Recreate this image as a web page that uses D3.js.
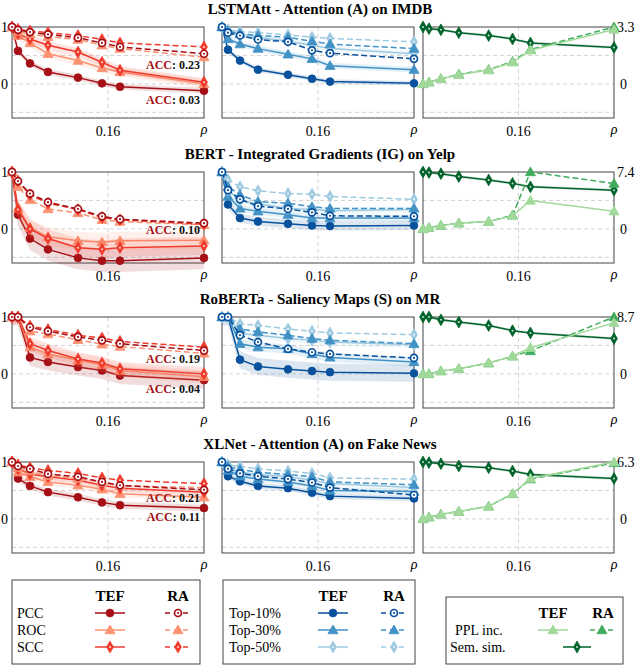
<!DOCTYPE html>
<html>
<head>
<meta charset="utf-8">
<script src="https://cdn.jsdelivr.net/npm/d3@7"></script>
<style>
  body { margin: 0; background: #fff; }
  text { font-family: "Liberation Serif", "Times New Roman", serif; }
</style>
</head>
<body>
<svg id="chart" width="640" height="666"></svg>
<script>
// x positions (ratio of removed tokens)
var rho = [0, 0.01, 0.03, 0.06, 0.11, 0.15, 0.18, 0.32];
var rhoTicks = [0.16];

var titles = [
  'LSTMAtt - Attention (A) on IMDB',
  'BERT - Integrated Gradients (IG) on Yelp',
  'RoBERTa - Saliency Maps (S) on MR',
  'XLNet - Attention (A) on Fake News'
];

// correlation metrics, one row per model
var pccTEF = [
  [1.0, 0.58, 0.36, 0.21, 0.11, 0.01, -0.05, -0.12],
  [1.0, 0.25, -0.17, -0.36, -0.51, -0.56, -0.56, -0.51],
  [1.0, 1.0, 0.29, 0.21, 0.12, 0.06, -0.03, -0.11],
  [1.0, 0.71, 0.58, 0.47, 0.38, 0.29, 0.24, 0.19]
];
var rocTEF = [
  [1.0, 0.85, 0.72, 0.53, 0.41, 0.28, 0.21, 0.0],
  [1.0, 0.36, 0.02, -0.14, -0.21, -0.23, -0.21, -0.2],
  [1.0, 1.0, 0.47, 0.35, 0.24, 0.16, 0.06, -0.05],
  [1.0, 0.82, 0.74, 0.65, 0.59, 0.52, 0.44, 0.38]
];
var sccTEF = [
  [1.0, 0.88, 0.79, 0.68, 0.56, 0.38, 0.24, 0.03],
  [1.0, 0.34, 0.0, -0.17, -0.33, -0.36, -0.33, -0.3],
  [1.0, 1.0, 0.53, 0.41, 0.26, 0.19, 0.09, 0.0],
  [1.0, 0.88, 0.79, 0.74, 0.68, 0.59, 0.54, 0.47]
];
var pccRA = [
  [1.0, 0.95, 0.91, 0.87, 0.81, 0.72, 0.65, 0.53],
  [1.0, 0.84, 0.62, 0.47, 0.35, 0.22, 0.17, 0.1],
  [1.0, 1.0, 0.82, 0.75, 0.65, 0.59, 0.53, 0.41],
  [1.0, 0.93, 0.88, 0.79, 0.74, 0.65, 0.59, 0.51]
];
var rocRA = [
  [1.0, 0.92, 0.88, 0.83, 0.78, 0.68, 0.62, 0.47],
  [1.0, 0.74, 0.51, 0.35, 0.28, 0.16, 0.13, 0.07],
  [1.0, 1.0, 0.75, 0.7, 0.6, 0.52, 0.48, 0.36],
  [1.0, 0.9, 0.84, 0.76, 0.71, 0.64, 0.58, 0.55]
];
var sccRA = [
  [1.0, 0.96, 0.93, 0.9, 0.85, 0.78, 0.72, 0.65],
  [1.0, 0.84, 0.6, 0.45, 0.34, 0.2, 0.16, 0.08],
  [1.0, 1.0, 0.84, 0.78, 0.68, 0.63, 0.57, 0.47],
  [1.0, 0.95, 0.9, 0.85, 0.8, 0.72, 0.68, 0.62]
];
var bandRed = [[0.05, 0.08, 0.07], [0.2, 0.16, 0.16], [0.15, 0.12, 0.12], [0.06, 0.06, 0.06]];

// top-k intersection
var top10TEF = [
  [1.0, 0.6, 0.41, 0.25, 0.16, 0.09, 0.04, 0.01],
  [1.0, 0.43, 0.19, 0.13, 0.09, 0.06, 0.05, 0.06],
  [1.0, 1.0, 0.25, 0.13, 0.08, 0.05, 0.03, 0.01],
  [1.0, 0.75, 0.66, 0.58, 0.54, 0.46, 0.4, 0.36]
];
var top30TEF = [
  [1.0, 0.79, 0.7, 0.62, 0.52, 0.44, 0.32, 0.25],
  [1.0, 0.57, 0.36, 0.31, 0.25, 0.19, 0.19, 0.19],
  [1.0, 1.0, 0.53, 0.47, 0.44, 0.35, 0.29, 0.21],
  [1.0, 0.85, 0.75, 0.7, 0.65, 0.58, 0.5, 0.48]
];
var top50TEF = [
  [1.0, 0.92, 0.87, 0.82, 0.75, 0.68, 0.62, 0.53],
  [1.0, 0.68, 0.5, 0.44, 0.36, 0.34, 0.32, 0.34],
  [1.0, 1.0, 0.71, 0.68, 0.62, 0.59, 0.56, 0.51],
  [1.0, 0.9, 0.82, 0.78, 0.74, 0.68, 0.62, 0.55]
];
var top10RA = [
  [1.0, 0.9, 0.85, 0.78, 0.74, 0.59, 0.54, 0.44],
  [1.0, 0.68, 0.52, 0.4, 0.35, 0.29, 0.23, 0.22],
  [1.0, 1.0, 0.68, 0.56, 0.44, 0.38, 0.35, 0.28],
  [1.0, 0.88, 0.8, 0.75, 0.7, 0.64, 0.55, 0.42]
];
var top30RA = [
  [1.0, 0.93, 0.88, 0.85, 0.82, 0.75, 0.7, 0.62],
  [1.0, 0.74, 0.6, 0.48, 0.45, 0.39, 0.36, 0.36],
  [1.0, 1.0, 0.79, 0.74, 0.68, 0.62, 0.59, 0.53],
  [1.0, 0.92, 0.87, 0.82, 0.78, 0.74, 0.65, 0.6]
];
var top50RA = [
  [1.0, 0.95, 0.92, 0.9, 0.86, 0.82, 0.8, 0.74],
  [1.0, 0.86, 0.74, 0.67, 0.62, 0.61, 0.57, 0.52],
  [1.0, 1.0, 0.88, 0.85, 0.79, 0.75, 0.72, 0.69],
  [1.0, 0.95, 0.92, 0.88, 0.84, 0.8, 0.72, 0.7]
];
var bandBlue = [[0.04, 0.05, 0.05], [0.08, 0.06, 0.06], [0.15, 0.08, 0.06], [0.05, 0.05, 0.05]];

// perplexity increase (raw) and semantic similarity (fraction)
var pplMax = [3.3, 7.4, 8.7, 6.3];
var pplTEF = [
  [0, 0.1, 0.3, 0.53, 0.8, 1.25, 1.95, 3.15],
  [0, 0.15, 0.44, 0.74, 0.96, 1.7, 3.7, 2.3],
  [0, 0, 0.44, 0.78, 1.65, 2.7, 4.0, 7.8],
  [0, 0.19, 0.5, 0.82, 1.39, 2.77, 4.47, 6.3]
];
var pplRA = [
  [0, 0.1, 0.3, 0.56, 0.83, 1.3, 2.0, 3.3],
  [0, 0.15, 0.44, 0.74, 0.96, 1.78, 7.4, 5.9],
  [0, 0, 0.44, 0.78, 1.65, 2.7, 3.5, 8.7],
  [0, 0.19, 0.5, 0.82, 1.39, 2.77, 4.4, 6.2]
];
var semSim = [
  [1.0, 0.97, 0.95, 0.9, 0.85, 0.79, 0.72, 0.64],
  [1.0, 0.99, 0.97, 0.92, 0.86, 0.8, 0.74, 0.68],
  [1.0, 1.0, 0.95, 0.91, 0.85, 0.76, 0.72, 0.62],
  [1.0, 0.99, 0.97, 0.93, 0.9, 0.84, 0.78, 0.71]
];

// model accuracy after attack: [RA, TEF]
var accRA = ['0.23', null, '0.19', '0.21'];
var accTEF = ['0.03', '0.10', '0.04', '0.11'];

var C = {
  pcc: '#a50f15', roc: '#fc9272', scc: '#ef3b2c',
  t10: '#08519c', t30: '#4292c6', t50: '#9ecae1',
  pplTEF: '#a1d99b', pplRA: '#41ab5d', sem: '#00632b'
};

var svg = d3.select('#chart');
var cols = [[12, 204], [222, 414], [423, 614]];
var frameH = 91;
var rowTop = function(r) { return 27 + r * 145; };

// where the ACC notes sit (y in axis units)
var accPos = [[0.33, -0.28], [null, -0.02], [0.27, -0.27], [0.37, 0.04]];

var sym = {
  circle: d3.symbol().type(d3.symbolCircle).size(48),
  triangle: d3.symbol().type(d3.symbolTriangle).size(44),
  diamond: d3.symbol().type(d3.symbolDiamond).size(40)
};

// draws one marker at (px,py)
function marker(g, px, py, shape, color, ra) {
  if (shape === 'circle' && ra) {
    g.append('circle').attr('cx', px).attr('cy', py).attr('r', 3.5)
      .attr('fill', '#fff').attr('stroke', color).attr('stroke-width', 1.7);
    g.append('circle').attr('cx', px).attr('cy', py).attr('r', 1.1).attr('fill', color);
    return;
  }
  g.append('path').attr('d', sym[shape]())
    .attr('transform', 'translate(' + px + ',' + (shape === 'triangle' ? py + 0.8 : py) + ')')
    .attr('fill', color).attr('stroke', color).attr('stroke-width', 0.8);
  if (shape === 'diamond') {
    g.append('circle').attr('cx', px).attr('cy', py).attr('r', 1).attr('fill', '#fff').attr('opacity', 0.8);
  }
}

function series(g, x, y, vals, color, shape, ra, band) {
  var pts = vals.map(function(v, i) { return [rho[i], v]; });
  if (band) {
    var area = d3.area().x(function(d) { return x(d[0]); })
      .y0(function(d) { return y(d[1] - band); })
      .y1(function(d) { return y(Math.min(1, d[1] + band)); });
    g.append('path').attr('d', area(pts)).attr('fill', color).attr('opacity', 0.14);
  }
  var line = d3.line().x(function(d) { return x(d[0]); }).y(function(d) { return y(d[1]); });
  g.append('path').attr('d', line(pts)).attr('fill', 'none')
    .attr('stroke', color).attr('stroke-width', 1.5)
    .attr('stroke-dasharray', ra ? '6,3' : null);
  pts.forEach(function(d) { marker(g, x(d[0]), y(d[1]), shape, color, ra); });
}

function panel(r, c) {
  var top = rowTop(r);
  var x = d3.scaleLinear().domain([0, 0.32]).range(cols[c]);
  var y = d3.scaleLinear().domain([-0.6, 1]).range([top + frameH, top]);
  var g = svg.append('g');

  // grid
  [0.5, 0, -0.5].forEach(function(v) {
    g.append('line').attr('x1', cols[c][0]).attr('x2', cols[c][1])
      .attr('y1', y(v)).attr('y2', y(v))
      .attr('stroke', '#c8c8c8').attr('stroke-width', 0.8).attr('stroke-dasharray', '4,3');
  });
  rhoTicks.forEach(function(t) {
    g.append('line').attr('x1', x(t)).attr('x2', x(t)).attr('y1', top).attr('y2', top + frameH)
      .attr('stroke', '#c8c8c8').attr('stroke-width', 0.8).attr('stroke-dasharray', '4,3');
    g.append('text').attr('x', x(t)).attr('y', top + frameH + 18)
      .attr('text-anchor', 'middle').attr('font-size', 14).text(t.toFixed(2));
  });
  g.append('text').attr('x', cols[c][1]).attr('y', top + frameH + 16)
    .attr('text-anchor', 'middle').attr('font-size', 14).attr('font-style', 'italic').text('ρ');

  g.append('rect').attr('x', cols[c][0]).attr('y', top)
    .attr('width', cols[c][1] - cols[c][0]).attr('height', frameH)
    .attr('fill', 'none').attr('stroke', '#444').attr('stroke-width', 1);

  if (c === 0) {
    g.append('text').attr('x', 8).attr('y', y(1) + 5).attr('text-anchor', 'end').attr('font-size', 14).text('1');
    g.append('text').attr('x', 8).attr('y', y(0) + 5).attr('text-anchor', 'end').attr('font-size', 14).text('0');
    var b = bandRed[r];
    series(g, x, y, pccTEF[r], C.pcc, 'circle', false, b[0]);
    series(g, x, y, rocTEF[r], C.roc, 'triangle', false, b[1]);
    series(g, x, y, sccTEF[r], C.scc, 'diamond', false, b[2]);
    series(g, x, y, rocRA[r], C.roc, 'triangle', true, 0);
    series(g, x, y, sccRA[r], C.scc, 'diamond', true, 0);
    series(g, x, y, pccRA[r], C.pcc, 'circle', true, 0);
    [accRA[r], accTEF[r]].forEach(function(a, k) {
      if (!a) return;
      var t = g.append('text').attr('x', 200).attr('y', y(accPos[r][k]) + 4)
        .attr('text-anchor', 'end').attr('font-size', 12).attr('font-weight', 'bold');
      t.append('tspan').attr('fill', C.pcc).text('ACC');
      t.append('tspan').attr('fill', '#111').text(': ' + a);
    });
  } else if (c === 1) {
    var bb = bandBlue[r];
    series(g, x, y, top10TEF[r], C.t10, 'circle', false, bb[0]);
    series(g, x, y, top30TEF[r], C.t30, 'triangle', false, bb[1]);
    series(g, x, y, top50TEF[r], C.t50, 'diamond', false, bb[2]);
    series(g, x, y, top50RA[r], C.t50, 'diamond', true, 0);
    series(g, x, y, top30RA[r], C.t30, 'triangle', true, 0);
    series(g, x, y, top10RA[r], C.t10, 'circle', true, 0);
  } else {
    g.append('text').attr('x', 617).attr('y', y(1) + 5).attr('font-size', 14).text(pplMax[r]);
    g.append('text').attr('x', 620).attr('y', y(0) + 5).attr('font-size', 14).text('0');
    var norm = function(a) { return a.map(function(v) { return v / pplMax[r]; }); };
    series(g, x, y, semSim[r], C.sem, 'diamond', false, 0.025);
    series(g, x, y, norm(pplRA[r]), C.pplRA, 'triangle', true, 0);
    series(g, x, y, norm(pplTEF[r]), C.pplTEF, 'triangle', false, 0);
  }
}

titles.forEach(function(t, r) {
  svg.append('text').attr('x', 320).attr('y', rowTop(r) - 13)
    .attr('text-anchor', 'middle').attr('font-size', 15).attr('font-weight', 'bold').text(t);
  for (var c = 0; c < 3; c++) panel(r, c);
});

// legends
function legendBox(x0, y0, w, h) {
  svg.append('rect').attr('x', x0).attr('y', y0).attr('width', w).attr('height', h)
    .attr('fill', '#fff').attr('stroke', '#444').attr('stroke-width', 1);
}
function legendEntry(cx, cy, half, color, shape, ra) {
  var g = svg.append('g');
  g.append('line').attr('x1', cx - half).attr('x2', cx + half).attr('y1', cy).attr('y2', cy)
    .attr('stroke', color).attr('stroke-width', 1.5).attr('stroke-dasharray', ra ? '5,4' : null);
  marker(g, cx, cy, shape, color, ra);
}
function header(x, y, s) {
  svg.append('text').attr('x', x).attr('y', y).attr('text-anchor', 'middle')
    .attr('font-size', 15).attr('font-weight', 'bold').text(s);
}
function label(x, y, s) {
  svg.append('text').attr('x', x).attr('y', y).attr('font-size', 14).text(s);
}

var redNames = ['PCC', 'ROC', 'SCC'];
var blueNames = ['Top-10%', 'Top-30%', 'Top-50%'];
var greenNames = ['PPL inc.', 'Sem. sim.'];
var rowsY = [613, 630, 647];

legendBox(12, 580, 188, 84);
header(110, 601, 'TEF'); header(178, 601, 'RA');
[[C.pcc, 'circle'], [C.roc, 'triangle'], [C.scc, 'diamond']].forEach(function(s, i) {
  label(17, rowsY[i] + 5, redNames[i]);
  legendEntry(110, rowsY[i], 15, s[0], s[1], false);
  legendEntry(178, rowsY[i], 13, s[0], s[1], true);
});

legendBox(223, 580, 192, 84);
header(333, 601, 'TEF'); header(394, 601, 'RA');
[[C.t10, 'circle'], [C.t30, 'triangle'], [C.t50, 'diamond']].forEach(function(s, i) {
  label(229, rowsY[i] + 5, blueNames[i]);
  legendEntry(333, rowsY[i], 15, s[0], s[1], false);
  legendEntry(394, rowsY[i], 13, s[0], s[1], true);
});

legendBox(446, 597, 177, 67);
header(553, 618, 'TEF'); header(603, 618, 'RA');
label(455, 635, greenNames[0]);
label(450, 652, greenNames[1]);
legendEntry(553, 630, 15, C.pplTEF, 'triangle', false);
legendEntry(602, 630, 12, C.pplRA, 'triangle', true);
legendEntry(577, 647, 14, C.sem, 'diamond', false);
</script>
</body>
</html>
